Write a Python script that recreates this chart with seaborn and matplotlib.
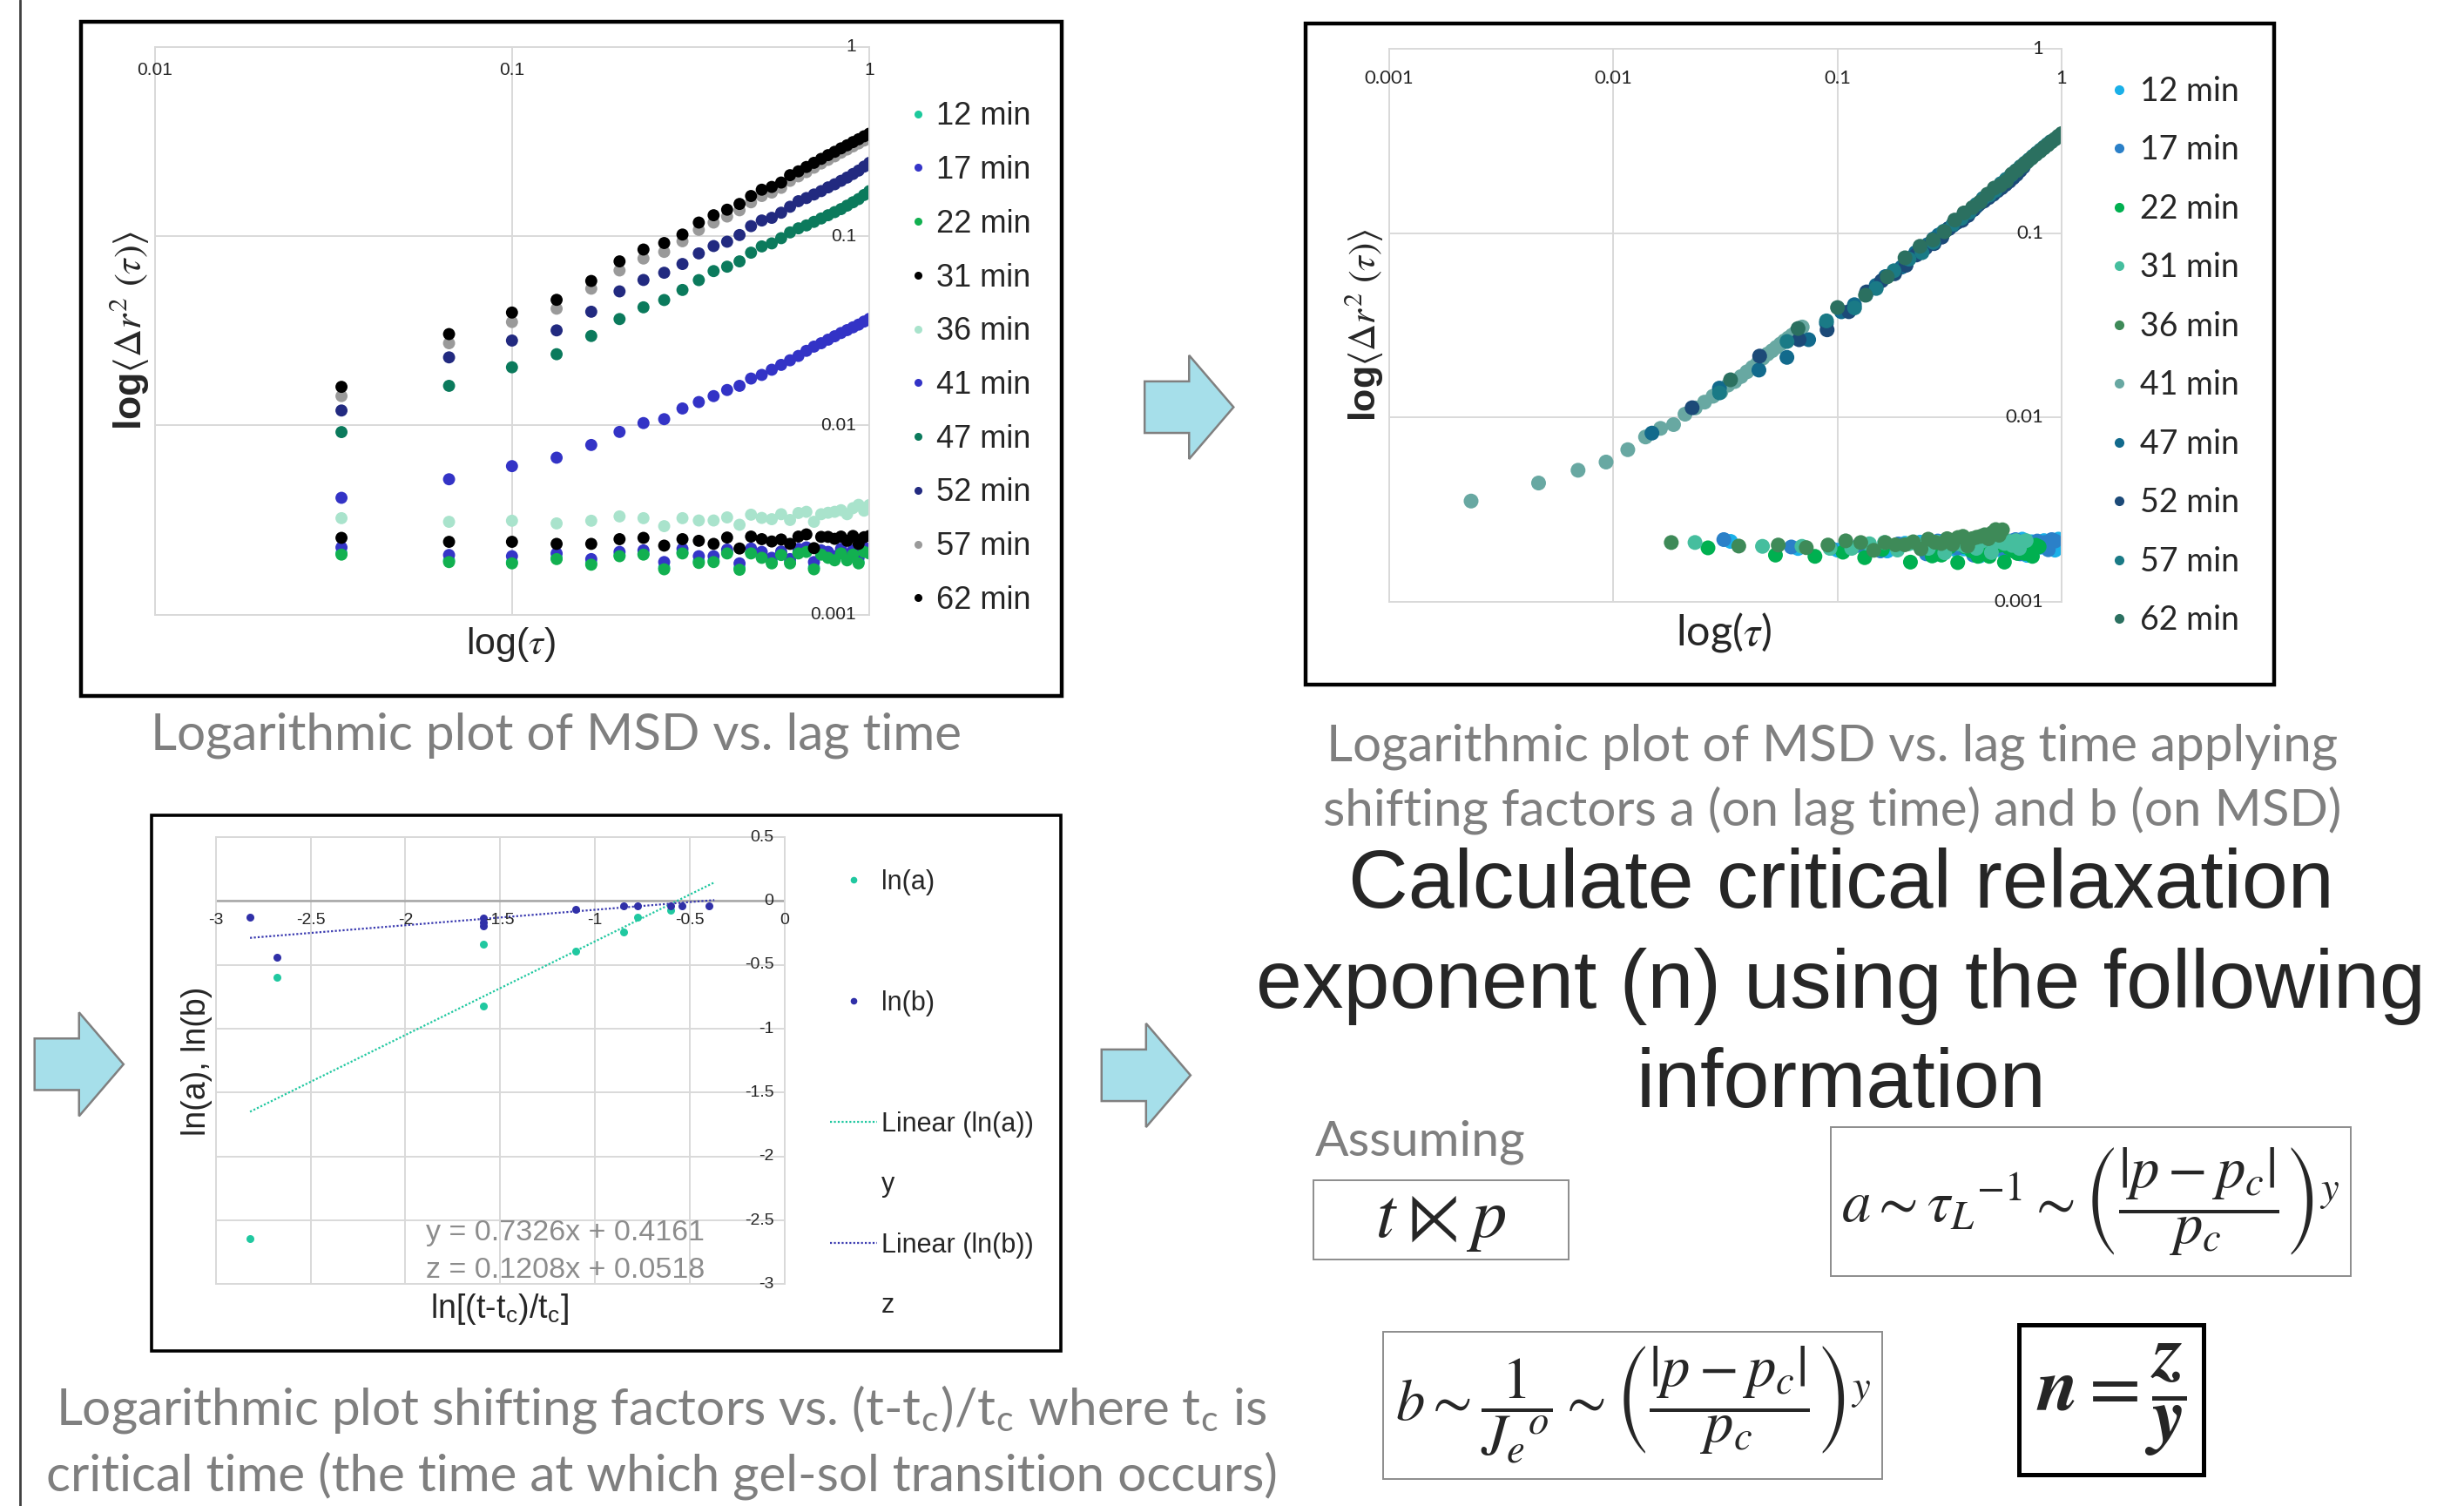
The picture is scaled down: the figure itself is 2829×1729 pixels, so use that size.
import numpy as np
import pandas as pd
import matplotlib.pyplot as plt
import seaborn as sns
from matplotlib.lines import Line2D
from matplotlib.patches import Rectangle, Polygon
from matplotlib.ticker import NullLocator

sns.set_theme(style='white')
plt.rcParams['font.family'] = ['Liberation Sans', 'DejaVu Sans']
plt.rcParams['mathtext.fontset'] = 'stix'

# ---------------- data ----------------
times = ['12 min', '17 min', '22 min', '31 min', '36 min',
         '41 min', '47 min', '52 min', '57 min', '62 min']
lag_frames = list(range(1, 31))
frame_rate = 30

msd_12 = [0.00212, 0.00194, 0.00190, 0.00200, 0.00188, 0.00207, 0.00210, 0.00178, 0.00214, 0.00192,
          0.00193, 0.00214, 0.00177, 0.00214, 0.00203, 0.00190, 0.00210, 0.00190, 0.00214, 0.00218,
          0.00178, 0.00211, 0.00203, 0.00197, 0.00214, 0.00197, 0.00211, 0.00190, 0.00218, 0.00214]
msd_17 = [0.00227, 0.00207, 0.00204, 0.00211, 0.00197, 0.00215, 0.00219, 0.00190, 0.00223, 0.00204,
          0.00204, 0.00221, 0.00187, 0.00224, 0.00215, 0.00200, 0.00216, 0.00197, 0.00223, 0.00227,
          0.00190, 0.00219, 0.00215, 0.00204, 0.00223, 0.00208, 0.00219, 0.00200, 0.00227, 0.00223]
msd_22 = [0.00208, 0.00190, 0.00187, 0.00197, 0.00184, 0.00204, 0.00208, 0.00174, 0.00211, 0.00188,
          0.00190, 0.00211, 0.00173, 0.00211, 0.00200, 0.00187, 0.00207, 0.00187, 0.00211, 0.00215,
          0.00174, 0.00208, 0.00200, 0.00194, 0.00211, 0.00194, 0.00208, 0.00187, 0.00215, 0.00211]
msd_31 = [0.00255, 0.00243, 0.00243, 0.00237, 0.00237, 0.00251, 0.00255, 0.00232, 0.00251, 0.00246,
          0.00237, 0.00256, 0.00224, 0.00259, 0.00251, 0.00244, 0.00250, 0.00237, 0.00259, 0.00266,
          0.00225, 0.00258, 0.00258, 0.00252, 0.00259, 0.00246, 0.00261, 0.00237, 0.00257, 0.00261]
msd_36 = [0.00324, 0.00310, 0.00314, 0.00304, 0.00314, 0.00331, 0.00324, 0.00294, 0.00324, 0.00315,
          0.00315, 0.00327, 0.00299, 0.00338, 0.00325, 0.00320, 0.00340, 0.00317, 0.00345, 0.00350,
          0.00310, 0.00340, 0.00346, 0.00350, 0.00357, 0.00340, 0.00366, 0.00381, 0.00355, 0.00380]
msd_41 = [0.00415, 0.00520, 0.00610, 0.00676, 0.00789, 0.00925, 0.0103, 0.0108, 0.0123, 0.0133,
          0.0143, 0.0154, 0.0162, 0.0177, 0.0185, 0.0197, 0.0209, 0.0221, 0.0233, 0.0248,
          0.0261, 0.0272, 0.0284, 0.0296, 0.0308, 0.0319, 0.0330, 0.0341, 0.0354, 0.0366]
msd_47 = [0.00923, 0.0162, 0.0203, 0.0238, 0.0297, 0.0365, 0.0421, 0.0460, 0.0520, 0.0586,
          0.0654, 0.0690, 0.0736, 0.0818, 0.0883, 0.0916, 0.0976, 0.1047, 0.110, 0.114,
          0.119, 0.124, 0.129, 0.134, 0.139, 0.145, 0.151, 0.157, 0.165, 0.173]
msd_52 = [0.0120, 0.0229, 0.0281, 0.0318, 0.0399, 0.0511, 0.0587, 0.0641, 0.0713, 0.0811,
          0.0887, 0.0935, 0.1014, 0.113, 0.121, 0.125, 0.133, 0.143, 0.153, 0.159,
          0.166, 0.173, 0.181, 0.188, 0.196, 0.204, 0.213, 0.222, 0.233, 0.244]
msd_57 = [0.0143, 0.0272, 0.0352, 0.0414, 0.0528, 0.0659, 0.0762, 0.0826, 0.094, 0.108,
          0.118, 0.127, 0.137, 0.151, 0.163, 0.170, 0.180, 0.196, 0.207, 0.218,
          0.230, 0.242, 0.253, 0.264, 0.276, 0.287, 0.298, 0.309, 0.320, 0.331]
msd_62 = [0.0160, 0.0304, 0.0395, 0.0461, 0.0580, 0.0736, 0.0850, 0.0920, 0.102, 0.118,
          0.129, 0.138, 0.148, 0.163, 0.176, 0.182, 0.192, 0.210, 0.220, 0.232,
          0.244, 0.256, 0.268, 0.279, 0.291, 0.302, 0.314, 0.325, 0.337, 0.348]
msd_all = [msd_12, msd_17, msd_22, msd_31, msd_36, msd_41, msd_47, msd_52, msd_57, msd_62]

# shifting factors a (lag time) and b (MSD) per curve
shift_a = [1.0, 0.933, 0.793, 0.694, 0.544, 0.0696, 0.446, 0.674, 0.893, 1.0]
shift_b = [1.0, 0.955, 0.94, 0.82, 0.645, 0.846, 0.89, 0.94, 0.95, 1.0]

colors_raw = ['#1cc99c', '#3535c8', '#12b050', '#000000', '#a9e3cc',
              '#3333c6', '#0b7a5c', '#222a80', '#9a9a9a', '#000000']
colors_shift = ['#1ab0e8', '#2b80c8', '#00b050', '#45be9e', '#3e8a58',
                '#68a8a2', '#126a8c', '#1c4a78', '#1a7a86', '#2b7060']

# ln of shift factors vs ln[(t-tc)/tc]
lnx_a = [-2.82, -2.68, -1.59, -1.59, -1.10, -0.85, -0.775, -0.60]
ln_a = [-2.64, -0.60, -0.335, -0.82, -0.39, -0.24, -0.13, -0.075]
lnx_b = [-2.82, -2.68, -1.59, -1.59, -1.59, -1.10, -0.85, -0.775, -0.60, -0.54, -0.40]
ln_b = [-0.127, -0.444, -0.135, -0.17, -0.195, -0.068, -0.04, -0.04, -0.04, -0.038, -0.038]
fit_a = [0.7326, 0.4161]
fit_b = [0.1208, 0.0518]
fit_range = [-2.82, -0.37]

rows = []
for t, m, a, b in zip(times, msd_all, shift_a, shift_b):
    for f, v in zip(lag_frames, m):
        tau = f / frame_rate
        rows.append((t, tau, v, tau * a, v * b))
df = pd.DataFrame(rows, columns=['time', 'tau', 'msd', 'tau_s', 'msd_s'])

# ---------------- layout helpers (slide drawn on a 1568 x 958 grid) ----------------
W, H = 1568, 958
def fx(x): return x / W
def fy(y): return 1 - y / H
def axrect(x0, y0, x1, y1): return [fx(x0), fy(y1), (x1 - x0) / W, (y1 - y0) / H]

GRID = '#d9d9d9'
GRAY_TXT = '#7f7f7f'

fig = plt.figure(figsize=(28.29, 17.29), dpi=100)


def excel_axes(ax):
    ax.minorticks_off()
    ax.xaxis.set_minor_locator(NullLocator())
    ax.yaxis.set_minor_locator(NullLocator())
    ax.grid(True, color=GRID, lw=1.4)
    ax.tick_params(length=0, labelbottom=False, labelleft=False)
    for sp in ax.spines.values():
        sp.set_color(GRID)
        sp.set_linewidth(1.4)
    ax.set_xlabel('')
    ax.set_ylabel('')


def tick_text(ax, xt, xl, yt, yl, xpad, ypad, size, family, xrow=1, xrow_data=False):
    for v, s in zip(xt, xl):
        coords = ('data', 'data') if xrow_data else ('data', 'axes fraction')
        ax.annotate(s, xy=(v, xrow), xycoords=coords, xytext=(0, -xpad),
                    textcoords='offset points', ha='center', va='center',
                    fontsize=size, family=family, annotation_clip=False)
    for v, s in zip(yt, yl):
        ax.annotate(s, xy=(1, v), xycoords=('axes fraction', 'data'), xytext=(-ypad, 0),
                    textcoords='offset points', ha='right', va='center',
                    fontsize=size, family=family, annotation_clip=False)


# ---------------- panel 1: raw MSD ----------------
ax1 = fig.add_axes(axrect(98.4, 29.8, 553.2, 391.1))
sns.scatterplot(data=df, x='tau', y='msd', hue='time', hue_order=times,
                palette=colors_raw, s=100, linewidth=0, legend=False, ax=ax1)
ax1.set_xscale('log')
ax1.set_yscale('log')
ax1.set_xlim(0.01, 1)
ax1.set_ylim(0.001, 1)
ax1.set_xticks([0.01, 0.1, 1])
ax1.set_yticks([0.001, 0.01, 0.1, 1])
excel_axes(ax1)
tick_text(ax1, [0.01, 0.1, 1], ['0.01', '0.1', '1'],
          [0.001, 0.01, 0.1, 1], ['0.001', '0.01', '0.1', '1'],
          19, 11, 15, 'Liberation Sans')

h1 = [Line2D([], [], ls='', marker='o', ms=6.5, mfc=c, mec='none') for c in colors_raw]
fig.legend(h1, times, loc='upper left', bbox_to_anchor=(fx(578.3), fy(64.5)),
           frameon=False, prop={'family': 'Liberation Sans', 'size': 26},
           handlelength=0.6, handletextpad=0.28, labelspacing=0.74,
           borderpad=0, borderaxespad=0)

fig.text(fx(82), fy(210), r'log$\langle\Delta r^2\ (\tau)\rangle$', rotation=90,
         ha='center', va='center', fontsize=32, fontweight='bold')
fig.text(fx(325), fy(410), r'log($\tau$)', ha='center', va='center', fontsize=31)

# ---------------- panel 2: shifted MSD ----------------
ax2 = fig.add_axes(axrect(884, 31.3, 1312, 382.6))
sns.scatterplot(data=df, x='tau_s', y='msd_s', hue='time', hue_order=times,
                palette=colors_shift, s=150, linewidth=0, legend=False, ax=ax2)
ax2.set_xscale('log')
ax2.set_yscale('log')
ax2.set_xlim(0.001, 1)
ax2.set_ylim(0.001, 1)
ax2.set_xticks([0.001, 0.01, 0.1, 1])
ax2.set_yticks([0.001, 0.01, 0.1, 1])
excel_axes(ax2)
tick_text(ax2, [0.001, 0.01, 0.1, 1], ['0.001', '0.01', '0.1', '1'],
          [0.001, 0.01, 0.1, 1], ['0.001', '0.01', '0.1', '1'],
          24, 15, 16, 'Lato')

h2 = [Line2D([], [], ls='', marker='o', ms=8, mfc=c, mec='none') for c in colors_shift]
fig.legend(h2, times, loc='upper left', bbox_to_anchor=(fx(1342.3), fy(48)),
           frameon=False, prop={'family': 'Lato', 'size': 27},
           handlelength=0.6, handletextpad=0.34, labelspacing=0.84,
           borderpad=0, borderaxespad=0)

fig.text(fx(868), fy(207), r'log$\langle\Delta r^2\ (\tau)\rangle$', rotation=90,
         ha='center', va='center', fontsize=31, fontweight='bold')
fig.text(fx(1097), fy(402), r'log($\tau$)', ha='center', va='center', fontsize=35,
         family='Lato')

# ---------------- panel 3: ln shifting factors ----------------
ax3 = fig.add_axes(axrect(137.4, 532.5, 499.2, 816.9))
ticks3x = [-3, -2.5, -2, -1.5, -1, -0.5, 0]
ticks3y = [0.5, 0, -0.5, -1, -1.5, -2, -2.5, -3]
ax3.set_xlim(-3, 0)
ax3.set_ylim(-3, 0.5)
ax3.set_xticks(ticks3x)
ax3.set_yticks(ticks3y)
excel_axes(ax3)
ax3.axhline(0, color='#a6a6a6', lw=1.8, zorder=1)
fx_line = np.array(fit_range)
ax3.plot(fx_line, np.polyval(fit_a, fx_line), ls=(0, (1, 1)), color='#20c8a0', lw=1.6)
ax3.plot(fx_line, np.polyval(fit_b, fx_line), ls=(0, (1, 1)), color='#3a3ab0', lw=1.6)
sns.scatterplot(x=lnx_a, y=ln_a, color='#20c8a0', s=42, linewidth=0, ax=ax3, zorder=3)
sns.scatterplot(x=lnx_b, y=ln_b, color='#3030a8', s=42, linewidth=0, ax=ax3, zorder=3)
tick_text(ax3, ticks3x, ['-3', '-2.5', '-2', '-1.5', '-1', '-0.5', '0'],
          ticks3y, ['0.5', '0', '-0.5', '-1', '-1.5', '-2', '-2.5', '-3'],
          15.6, 8.7, 14, 'Liberation Sans', xrow=0, xrow_data=True)
ax3.text(0.37, 0.115, 'y = 0.7326x + 0.4161', transform=ax3.transAxes, fontsize=24.5,
         color='#8c8c8c', va='center')
ax3.text(0.37, 0.03, 'z = 0.1208x + 0.0518', transform=ax3.transAxes, fontsize=24.5,
         color='#8c8c8c', va='center')

blank = Line2D([], [], ls='', marker='')
h3 = [Line2D([], [], ls='', marker='o', ms=5.5, mfc='#20c8a0', mec='none'), blank,
      Line2D([], [], ls='', marker='o', ms=5.5, mfc='#3030a8', mec='none'), blank,
      Line2D([], [], ls=(0, (1, 1)), lw=1.6, color='#20c8a0'), blank,
      Line2D([], [], ls=(0, (1, 1)), lw=1.6, color='#3a3ab0'), blank]
l3 = ['ln(a)', ' ', 'ln(b)', ' ', 'Linear (ln(a))', 'y', 'Linear (ln(b))', 'z']
fig.legend(h3, l3, loc='upper left', bbox_to_anchor=(fx(528), fy(553)),
           frameon=False, prop={'family': 'Liberation Sans', 'size': 22},
           handlelength=1.77, handletextpad=0.18, labelspacing=1.29,
           borderpad=0, borderaxespad=0)

fig.text(fx(125), fy(675), 'ln(a), ln(b)', rotation=90, ha='center', va='center',
         fontsize=27)
fig.text(fx(318), fy(833), r'ln[(t-t$_\mathregular{c}$)/t$_\mathregular{c}$]',
         ha='center', va='center', fontsize=27)

# ---------------- frames, arrows, slide decorations ----------------
for (x0, y0, x1, y1, lw) in [(51.7, 13.6, 675.4, 442.5, 3.2),
                             (831, 15, 1447, 435.7, 3.2),
                             (96.4, 518.7, 675, 859.3, 2.6)]:
    fig.add_artist(Rectangle((fx(x0), fy(y1)), (x1 - x0) / W, (y1 - y0) / H,
                             transform=fig.transFigure, fill=False, ec='black', lw=lw))

fig.add_artist(Line2D([fx(13), fx(13)], [0, 1], transform=fig.transFigure,
                      color='#404040', lw=2))

for x0, yc in [(728.4, 259), (22, 677), (701, 684)]:
    pts = [(x0, yc - 16.4), (x0 + 28.3, yc - 16.4), (x0 + 28.3, yc - 33), (x0 + 56.6, yc),
           (x0 + 28.3, yc + 33), (x0 + 28.3, yc + 16.4), (x0, yc + 16.4)]
    fig.add_artist(Polygon([(fx(x), fy(y)) for x, y in pts], closed=True,
                           transform=fig.transFigure, fc='#a6dfea', ec='#808080', lw=1.8))

# captions
cap = dict(family='Lato', fontsize=42, color=GRAY_TXT, ha='center', va='baseline')
fig.text(fx(354), fy(477), 'Logarithmic plot of MSD vs. lag time', **cap)
fig.text(fx(1166), fy(484), 'Logarithmic plot of MSD vs. lag time applying', **cap)
fig.text(fx(1166), fy(525), 'shifting factors a (on lag time) and b (on MSD)', **cap)
fig.text(fx(421), fy(906),
         r'Logarithmic plot shifting factors vs. (t-t$_\mathregular{c}$)/t$_\mathregular{c}$'
         r' where t$_\mathregular{c}$ is', **cap)
fig.text(fx(421), fy(948.5), 'critical time (the time at which gel-sol transition occurs)', **cap)

# right-hand text block
for txt, yb in [('Calculate critical relaxation', 577.5),
                ('exponent (n) using the following', 641),
                ('information', 704)]:
    fig.text(fx(1171.5), fy(yb), txt, ha='center', va='baseline', fontsize=68.5)
fig.text(fx(837), fy(735), 'Assuming', family='Lato', fontsize=41, color=GRAY_TXT,
         ha='left', va='baseline')

boxes = [(836, 751, 998, 801, '#8c8c8c', 1.4, r'$t \ltimes p$', 58),
         (1165, 717, 1496, 812, '#8c8c8c', 1.4,
          r'$a{\sim}\tau_L{}^{-1}{\sim}\left(\dfrac{|p-p_c|}{p_c}\right)^y$', 48),
         (880, 847, 1198, 941, '#8c8c8c', 1.4,
          r'$b{\sim}\dfrac{1}{J_e{}^o}{\sim}\left(\dfrac{|p-p_c|}{p_c}\right)^y$', 48),
         (1285, 843, 1402, 938, 'black', 3.6,
          r'$\boldsymbol{n} = \dfrac{\boldsymbol{z}}{\boldsymbol{y}}$', 62)]
for x0, y0, x1, y1, ec, lw, tex, fs in boxes:
    fig.add_artist(Rectangle((fx(x0), fy(y1)), (x1 - x0) / W, (y1 - y0) / H,
                             transform=fig.transFigure, fill=False, ec=ec, lw=lw))
    fig.text(fx((x0 + x1) / 2), fy((y0 + y1) / 2), tex, ha='center', va='center', fontsize=fs)

fig.savefig('out.png', dpi=100)
